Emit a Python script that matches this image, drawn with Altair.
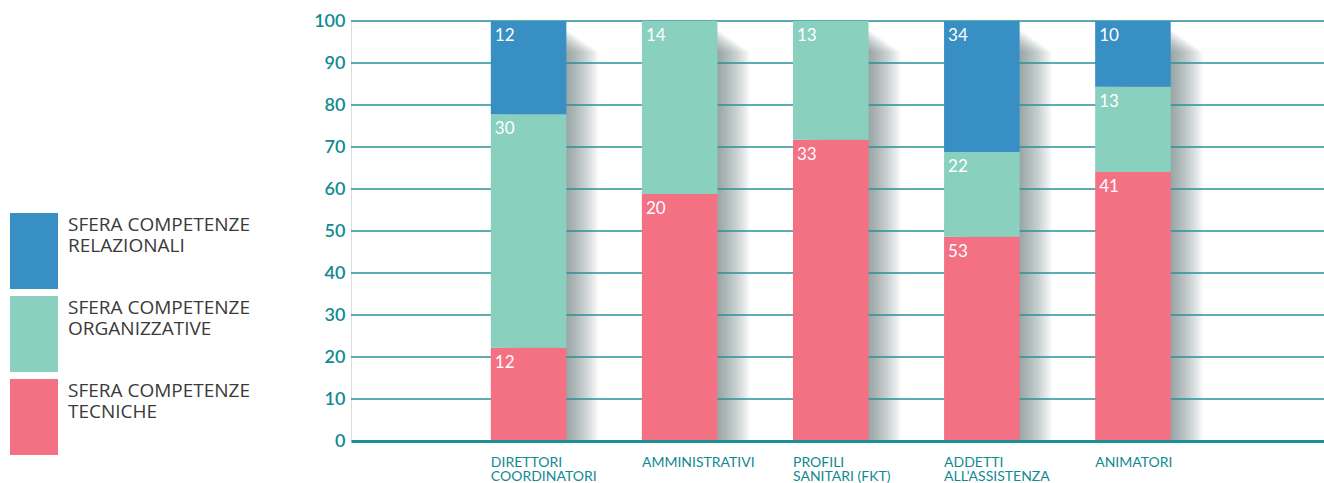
import altair as alt
import pandas as pd

categories = ["DIRETTORI|COORDINATORI", "AMMINISTRATIVI", "PROFILI|SANITARI (FKT)",
              "ADDETTI|ALL’ASSISTENZA", "ANIMATORI"]
series = ["SFERA COMPETENZE|TECNICHE", "SFERA COMPETENZE|ORGANIZZATIVE",
          "SFERA COMPETENZE|RELAZIONALI"]
tecniche = [12, 20, 33, 53, 41]
organizzative = [30, 14, 13, 22, 13]
relazionali = [12, 0, 0, 34, 10]
colors = ["#f37183", "#8ad0bf", "#378fc4"]
y_ticks = [0, 10, 20, 30, 40, 50, 60, 70, 80, 90, 100]

rows = []
for i, c in enumerate(categories):
    for j, (s, vals) in enumerate(zip(series, [tecniche, organizzative, relazionali])):
        rows.append({"cat": c, "serie": s, "value": vals[i], "order": j})
df = pd.DataFrame(rows)
grid_df = pd.DataFrame({"t": y_ticks[1:]})

TEAL = "#0f8a92"
FONT = "Lato"

xscale = alt.Scale(domain=categories, paddingInner=0.5, paddingOuter=0.97, align=0.477)
yscale = alt.Scale(domain=[0, 100], nice=False)

yaxis = alt.Axis(values=y_ticks, labelPadding=6, labelFontSize=18, labelColor=TEAL,
                 labelFont=FONT, labelFontWeight=600, ticks=False, domain=False,
                 grid=False)
xaxis = alt.Axis(labelExpr="split(datum.label,'|')", labelAlign="left",
                 labelOffset=-37.75, labelBaseline="top", labelPadding=14,
                 labelFontSize=14, labelColor=TEAL, labelFont=FONT,
                 labelLineHeight=14.5, ticks=False, domainColor="#1a8f96",
                 domainWidth=3, zindex=1, labelAngle=0, grid=False)

base = (alt.Chart(df)
        .transform_filter("datum.value > 0")
        .transform_stack(as_=["v0", "v1"], stack="value", groupby=["cat"],
                         offset="normalize", sort=[alt.SortField("order", "ascending")])
        .transform_calculate(p0="100*datum.v0", p1="100*datum.v1"))

xenc = alt.X("cat:N", scale=xscale, sort=categories, title=None, axis=xaxis)

layers = []
shadow_base = base.transform_filter("datum.order == 0")
for k in range(2, 34, 2):
    layers.append(shadow_base.mark_bar(color="#50545a", opacity=0.042, xOffset=k,
                                       yOffset=8 + 0.7 * k, clip=True).encode(
        x=xenc, y=alt.Y(datum=100, scale=yscale, title=None, axis=yaxis),
        y2=alt.Y2(datum=0)))

grid = alt.Chart(grid_df).mark_rule(color="#2a9198", strokeWidth=1.5).encode(
    y=alt.Y("t:Q", scale=yscale, title=None, axis=yaxis))

bars = base.mark_bar().encode(
    x=xenc,
    y=alt.Y("p1:Q", scale=yscale, title=None, axis=yaxis),
    y2="p0:Q",
    color=alt.Color("serie:N",
                    scale=alt.Scale(domain=series[::-1], range=colors[::-1]),
                    legend=alt.Legend(title=None, orient="none", legendX=-341, legendY=186,
                                      direction="vertical",
                                      symbolType="M-1,-0.75H1V2.4167H-1Z",
                                      symbolSize=2304, symbolStrokeWidth=0,
                                      symbolOpacity=1, rowPadding=-7, labelOffset=10,
                                      labelFontSize=19, labelColor="#3a3a3a",
                                      labelFont="Open Sans", labelLimit=400, padding=0,
                                      labelExpr="split(datum.label, '|')",
                                      labelBaseline="alphabetic")),
)

text = base.mark_text(align="left", baseline="top", dx=4, dy=7, color="white",
                      fontSize=17, font=FONT).encode(
    x=alt.X("cat:N", scale=xscale, sort=categories, bandPosition=0),
    y=alt.Y("p1:Q", scale=yscale),
    text="value:Q")

chart = (alt.layer(*layers, grid, bars, text)
         .properties(width=973, height=420,
                     autosize=alt.AutoSizeParams(type="none"),
                     padding={"left": 351, "top": 21, "right": 0, "bottom": 42})
         .configure_view(stroke=None)
         .configure(background="white"))

chart.save("out.html", embed_options={"renderer": "svg", "actions": False})
